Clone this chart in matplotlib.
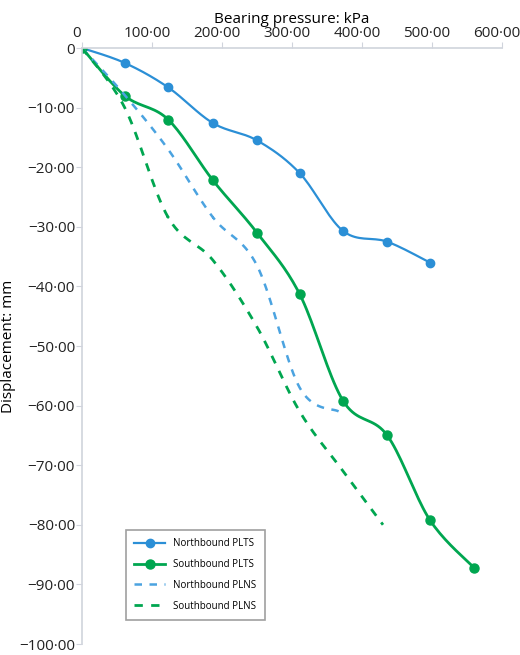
import numpy as np
import matplotlib.pyplot as plt
import matplotlib.transforms as mtransforms
from matplotlib.ticker import FuncFormatter

plt.rcParams['font.family'] = ['Open Sans', 'DejaVu Sans']

# Data
nb_plts_x = [0, 61, 123, 187, 250, 311, 373, 436, 497]
nb_plts_y = [0, -2.5, -6.6, -12.6, -15.5, -21.0, -30.7, -32.5, -36.0]
sb_plts_x = [0, 61, 123, 187, 250, 311, 373, 436, 497, 560]
sb_plts_y = [0, -8.0, -12.0, -22.2, -31.0, -41.3, -59.2, -65.0, -79.2, -87.2]
nb_plns_x = [0, 61, 123, 187, 250, 311, 367]
nb_plns_y = [0, -7.9, -17.0, -28.4, -36.5, -57.0, -61.0]
sb_plns_x = [0, 61, 123, 187, 250, 311, 373, 430]
sb_plns_y = [0, -10.0, -28.4, -35.6, -46.8, -61.0, -71.0, -80.0]


def smooth(x, y, n=20):
    """Catmull-Rom curve through the points (like Excel smoothed lines)."""
    p = np.column_stack([x, y]).astype(float)
    p = np.vstack([p[0], p, p[-1]])
    out = []
    t = np.linspace(0, 1, n)[:, None]
    for i in range(1, len(p) - 2):
        p0, p1, p2, p3 = p[i - 1], p[i], p[i + 1], p[i + 2]
        seg = 0.5 * ((2 * p1) + (-p0 + p2) * t + (2 * p0 - 5 * p1 + 4 * p2 - p3) * t ** 2
                     + (-p0 + 3 * p1 - 3 * p2 + p3) * t ** 3)
        out.append(seg)
    out = np.vstack(out)
    return out[:, 0], out[:, 1]


blue = '#2b8fd6'
green = '#00a650'

fig = plt.figure(figsize=(5.2, 6.55), dpi=100)
ax = fig.add_axes([82 / 520, 11 / 655, 420 / 520, 596 / 655])

sx, sy = smooth(nb_plts_x, nb_plts_y)
ax.plot(sx, sy, color=blue, lw=1.6)
ax.plot(nb_plts_x, nb_plts_y, 'o', color=blue, ms=6)
sx, sy = smooth(sb_plts_x, sb_plts_y)
ax.plot(sx, sy, color=green, lw=2.0)
ax.plot(sb_plts_x, sb_plts_y, 'o', color=green, ms=6.5)
sx, sy = smooth(nb_plns_x, nb_plns_y)
ax.plot(sx, sy, color='#4ba3e0', lw=1.8, ls=(0, (3, 3)))
sx, sy = smooth(sb_plns_x, sb_plns_y)
ax.plot(sx, sy, color=green, lw=2.0, ls=(0, (3, 3)))

# legend proxies
h1, = ax.plot([], [], '-o', color=blue, lw=1.6, ms=6)
h2, = ax.plot([], [], '-o', color=green, lw=2.0, ms=6.5)
h3, = ax.plot([], [], color='#4ba3e0', lw=1.8, ls=(0, (3, 3)))
h4, = ax.plot([], [], color=green, lw=2.0, ls=(0, (3, 3)))
leg = ax.legend([h1, h2, h3, h4],
                ['Northbound PLTS', 'Southbound PLTS', 'Northbound PLNS', 'Southbound PLNS'],
                loc='upper left', bbox_to_anchor=(0.092, 0.2), fontsize=7,
                fancybox=False, edgecolor='#888888', handlelength=3.2,
                labelspacing=1.0, borderpad=0.9)
leg.get_frame().set_linewidth(1.2)

ax.set_xlim(0, 600)
ax.set_ylim(-100, 0)
ax.set_xticks(np.arange(0, 601, 100))
ax.set_yticks(np.arange(-100, 1, 10))


def fmt(v, pos):
    if v == 0:
        return '0'
    return ('%.2f' % v).replace('.', '\u00b7').replace('-', '\u2212')


ax.xaxis.set_major_formatter(FuncFormatter(fmt))
ax.yaxis.set_major_formatter(FuncFormatter(fmt))
ax.xaxis.tick_top()
ax.xaxis.set_label_position('top')
ax.spines['bottom'].set_visible(False)
ax.spines['right'].set_visible(False)
for s in ('top', 'left'):
    ax.spines[s].set_color('#d0d4dc')
    ax.spines[s].set_linewidth(1.2)
ax.tick_params(colors='#d0d4dc', labelcolor='#222222', labelsize=11, length=4, pad=1)
ax.set_xlabel('Bearing pressure: kPa', fontsize=11, labelpad=2)
ax.set_ylabel('Displacement: mm', fontsize=11, labelpad=2)

# the reference draws x tick labels a little left of their ticks
shift = mtransforms.ScaledTranslation(-5 / 100, 0, fig.dpi_scale_trans)
for lab in ax.get_xticklabels():
    lab.set_transform(lab.get_transform() + shift)

fig.savefig('out.png', dpi=100)
